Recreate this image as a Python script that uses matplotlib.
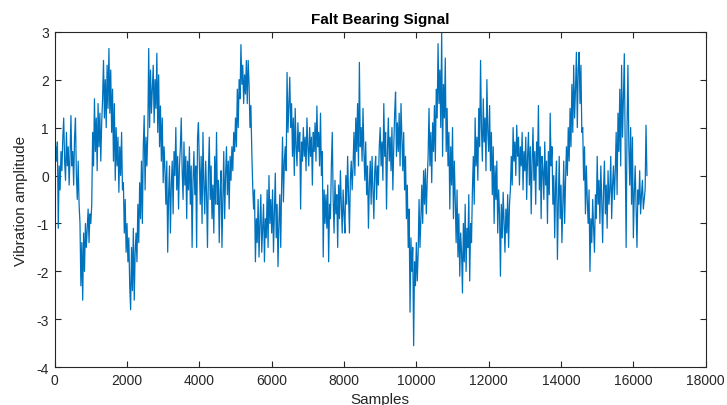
import numpy as np
import matplotlib
matplotlib.use("Agg")
import matplotlib.pyplot as plt

# valores, um a cada 25 amostras (20 valores por trecho de 500)
passo = 25
trechos = [
    [-0.2, 0.6, 0.3, 0.7, -1.1, 0.2, -0.3, 0.5, 0.1, 0.8, 1.2, 0.3, -0.1, 0.9, 0.2, 0.6, -0.2, 0.4, 1.25, 0.2],
    [0.5, -0.2, 0.8, 1.2, 0.0, -0.5, 0.3, -0.6, -1.0, -2.3, -1.4, -2.6, -1.2, -2.0, -1.0, -1.5, -1.1, -0.7, -1.4, -0.8],
    [-1.0, -0.6, 0.9, 0.2, 1.6, 0.5, 1.2, 0.1, 1.5, 0.6, 1.3, 0.3, 1.1, 1.6, 2.4, 1.2, 2.0, 1.0, 2.3, 1.4],
    [2.65, 1.3, 2.2, 0.9, 1.8, 0.3, 1.5, -0.1, 1.0, 0.2, 0.8, -0.35, 0.6, 0.0, 0.9, -0.3, -0.15, -1.2, -0.5, -1.6],
    [-1.0, -1.8, -1.3, -2.3, -2.8, -1.5, -2.4, -1.1, -2.6, -1.6, -1.2, -1.8, -0.6, -1.4, -0.15, -0.9, 0.3, -1.0, 0.6, 1.25],
    [-0.3, 0.8, 0.2, 0.9, 2.65, 1.0, 2.2, 1.3, 1.8, 2.3, 1.1, 2.0, 1.4, 2.55, 0.9, 2.1, 0.6, 1.45, 0.3, 1.2],
    [-0.15, 0.6, 0.1, -0.6, 0.3, -1.6, -0.4, 0.2, -1.2, -0.2, 0.3, -0.8, 0.5, 0.0, 1.0, -0.3, 0.4, -0.7, 0.2, 0.6],
    [1.2, 0.1, -0.5, 0.7, -0.2, 0.4, -0.9, 0.3, -0.3, 0.6, -0.6, 0.2, -1.5, -0.1, 0.5, -0.4, 0.2, -1.5, 0.8, 1.1],
    [0.2, -0.6, 0.4, -1.0, 0.9, -0.2, -0.8, 0.3, -0.4, -1.5, 0.1, 0.8, -0.5, 0.2, -0.9, -0.2, -1.2, 0.4, -0.6, 0.9],
    [-0.6, -0.1, -1.4, -0.3, 0.1, -1.5, -0.5, 0.5, -0.9, 0.0, 0.6, -0.4, 0.3, -0.7, 0.4, -0.1, 0.6, 0.1, 0.9, 0.5],
    [1.2, 0.6, 1.8, 1.0, 2.0, 1.6, 2.73, 1.9, 2.3, 1.5, 2.1, 1.7, 2.4, 1.5, 2.4, 1.9, 1.0, 1.46, 0.5, -0.2],
    [-0.7, -0.3, -1.8, -0.9, -1.4, -0.5, -1.7, -1.0, -0.4, -1.6, -1.1, -0.6, -1.8, -0.9, -1.3, -0.3, -1.5, 0.0, -1.0, -0.5],
    [-1.2, -0.3, -1.6, -0.8, 0.05, -1.3, -0.6, -1.9, -1.0, -0.4, -1.5, -0.2, 0.8, -0.55, 0.3, 0.6, 0.1, 2.15, 0.9, 1.5],
    [2.05, 1.0, 1.5, 0.4, 1.2, 0.0, 1.4, 0.6, 0.2, 1.1, 0.5, 0.9, -0.7, 0.7, 0.3, 1.0, 0.4, 0.8, 0.1, 1.2],
    [0.6, 0.2, 1.0, 0.4, 0.8, -0.2, 0.9, 0.5, 1.1, 0.3, 1.45, 0.6, 0.9, 0.2, 1.3, 0.0, 0.5, -1.7, -0.3, -1.0],
    [-0.4, -1.1, -0.2, -1.8, -0.6, -0.9, 0.2, 0.9, -0.5, -1.2, -0.1, -0.8, -0.4, -1.5, -0.2, -0.9, 0.1, -0.6, -1.2, -0.3],
    [-0.8, -1.2, 0.0, -0.6, 0.4, -0.4, -1.2, -0.1, 0.3, -0.3, 0.2, 0.9, 0.0, 1.2, 0.5, 1.5, 0.2, 2.36, 0.6, 1.0],
    [0.3, 1.4, 0.5, -0.1, 0.7, -0.4, 0.2, -1.1, -0.2, 0.3, -0.6, 0.4, -0.3, -0.9, 0.1, 0.4, -0.5, 0.2, -0.2, 0.6],
    [1.0, 0.2, 0.7, -0.1, 1.5, 0.4, 0.9, -0.7, 0.5, 1.2, 0.3, 0.8, 0.1, 1.0, -0.3, 0.6, 1.3, 1.74, 0.4, 1.1],
    [0.5, 1.3, 0.2, 1.5, 0.8, 0.1, 0.9, -0.3, 0.4, -0.9, -0.2, -1.5, -0.7, -2.85, -1.3, -2.0, -1.5, -3.55, -1.8, -2.3],
    [-1.4, -2.2, -1.6, -0.5, -1.5, -0.9, -0.2, -1.0, 0.1, -0.6, 0.14, -0.8, -0.1, 0.4, 1.4, 0.2, 0.9, -0.15, 1.1, 0.5],
    [1.46, 0.3, 1.8, 1.2, 2.75, 1.5, 2.2, 1.0, 3.0, 0.4, 1.9, 1.2, 2.45, 0.5, 1.4, 0.2, 0.9, -0.7, 0.6, -0.2],
    [1.0, -0.9, 0.3, -0.5, -1.4, -0.3, -1.7, -0.8, -2.1, -1.2, -1.6, -2.45, -1.0, -1.8, -0.6, -2.0, -1.1, -1.5, -0.4, -2.2],
    [-1.0, -1.4, -0.3, 0.4, -0.6, 1.2, 0.2, 0.8, -0.1, 1.4, 0.6, 2.4, 1.0, 0.3, 1.6, 0.7, 1.2, 0.1, 2.0, 0.9],
    [0.5, 1.46, 0.1, 0.9, -0.4, 0.6, -1.0, 0.2, -0.5, 0.3, -1.2, -0.3, -0.8, -2.1, -0.6, -1.3, -0.35, -1.0, -1.6, -0.7],
    [-1.2, -0.4, -1.5, -0.6, -0.3, 0.4, -0.2, 1.0, 0.3, 0.7, 0.0, 1.05, 0.4, 0.8, -0.2, 0.6, 0.2, 0.9, -0.3, 0.5],
    [0.1, 0.8, -0.5, 0.4, 0.9, -0.2, 0.6, -0.8, 0.3, 1.0, -0.1, 0.5, -0.6, 0.7, 0.2, 1.46, -0.3, 0.6, -0.9, 0.4],
    [0.1, -0.5, 0.7, -0.2, 0.3, -1.0, 0.5, -0.4, 1.3, 0.2, 0.6, -0.6, 0.0, -1.3, -0.2, 0.3, -1.75, -0.6, 0.4, -0.9],
    [-0.2, -1.4, -0.6, 0.3, -1.0, -0.1, 0.6, 0.0, 1.0, 0.3, 1.4, 0.6, 1.9, 0.9, 2.3, 1.2, 1.8, 2.57, 1.0, 2.2],
    [2.57, 1.5, 2.3, 0.9, 1.0, -0.1, 0.6, -0.8, 0.2, -0.5, -1.0, -0.3, -2.0, -0.9, -1.4, -0.5, -1.1, -1.6, -0.4, -0.9],
    [0.4, -0.6, -0.1, -1.0, 0.2, -0.5, -1.4, -0.3, 0.3, -0.8, -0.2, -1.1, 0.1, -0.6, -0.3, 0.4, -0.9, -0.2, 0.2, -0.5],
    [0.1, 0.9, -0.4, 1.3, 0.5, 1.8, 0.2, 2.3, 0.8, 1.6, 2.54, 0.4, -1.5, 1.0, 2.3, 0.6, -0.2, 1.0, -0.6, 0.8],
    [-1.3, -0.4, 0.2, -0.7, -1.5, -0.3, -0.6, 0.1, -0.8, -0.4, -0.1, -0.7, -0.5, -0.3, 1.05, 0.0],
]

sinal = [v for t in trechos for v in t]
amostras = np.arange(len(sinal)) * passo

plt.rcParams['font.family'] = ['Liberation Sans', 'DejaVu Sans']
plt.rcParams['axes.unicode_minus'] = False

fig = plt.figure(figsize=(7.27, 4.06), dpi=100)
ax = fig.add_axes([0.0752, 0.0929, 0.8955, 0.8266])
ax.plot(amostras, sinal, color='#0072BD', linewidth=0.9)

ax.set_xlim(0, 18000)
ax.set_ylim(-4, 3)
ax.set_xticks(range(0, 18001, 2000))
ax.set_yticks(range(-4, 4))
ax.tick_params(direction='in', top=True, right=True, length=4, width=0.8,
               labelsize=10, colors='#262626', pad=4)
for lado in ax.spines.values():
    lado.set_color('#262626')
    lado.set_linewidth(0.8)

ax.set_title('Falt Bearing Signal', fontsize=11, fontweight='bold', pad=6)
ax.set_xlabel('Samples', fontsize=11, color='#262626', labelpad=4)
ax.set_ylabel('Vibration amplitude', fontsize=11, color='#262626', labelpad=6)

fig.savefig('out.png', dpi=100)
